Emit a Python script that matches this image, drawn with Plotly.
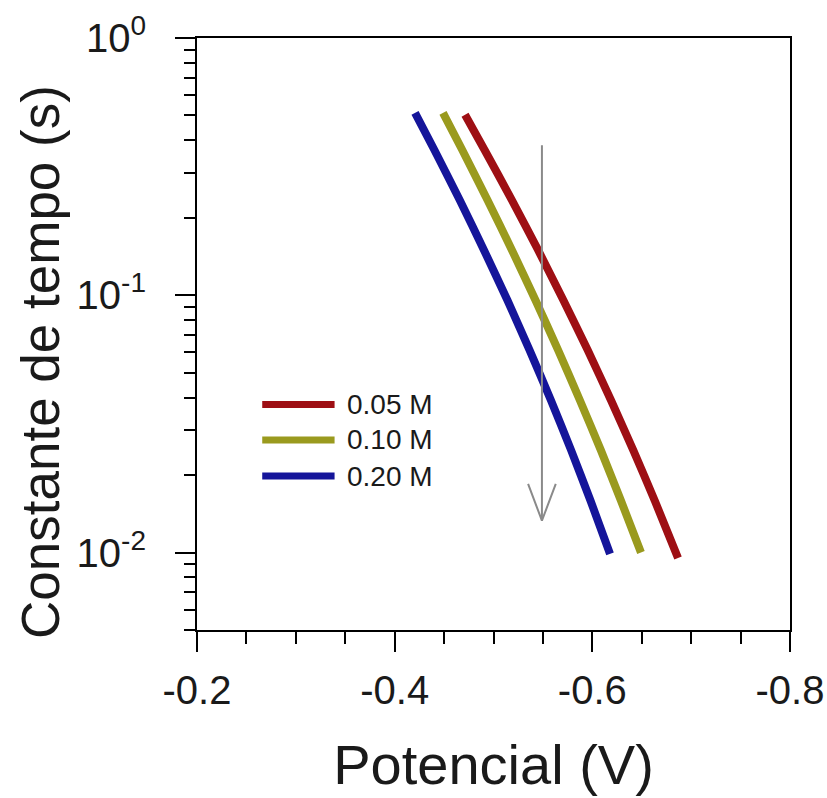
import math
import plotly.graph_objects as go

# ---- data ----
series_names = ["0.05 M", "0.10 M", "0.20 M"]
series_colors = ["#9E0F14", "#9A9A1E", "#15159A"]

pot_005 = [-0.4712, -0.4910, -0.5186, -0.5452, -0.5707, -0.5954, -0.6190, -0.6416, -0.6632, -0.6867]
tau_005 = [0.503, 0.367, 0.2345, 0.1497, 0.0956, 0.0611, 0.0390, 0.0249, 0.0159, 0.00953]

pot_010 = [-0.4489, -0.4684, -0.4939, -0.5187, -0.5425, -0.5655, -0.5875, -0.6088, -0.6290, -0.6492]
tau_010 = [0.512, 0.367, 0.2345, 0.1497, 0.0956, 0.0611, 0.0390, 0.0249, 0.0159, 0.0100]

pot_020 = [-0.4206, -0.4402, -0.4658, -0.4904, -0.5141, -0.5366, -0.5582, -0.5787, -0.5982, -0.6179]
tau_020 = [0.512, 0.367, 0.2345, 0.1497, 0.0956, 0.0611, 0.0390, 0.0249, 0.0159, 0.00989]

x_tickvals = [-0.2, -0.4, -0.6, -0.8]
x_ticktext = ["-0.2", "-0.4", "-0.6", "-0.8"]
x_minor = [-0.25, -0.3, -0.35, -0.45, -0.5, -0.55, -0.65, -0.7, -0.75]

y_tickvals = [0.01, 0.1, 1.0]
y_ticktext = ["10<sup>-2</sup>", "10<sup>-1</sup>", "10<sup>0</sup>"]
y_minor = [m * d for d in (0.001, 0.01, 0.1) for m in range(2, 10) if m * d >= 0.005]

x_range = [-0.2, -0.8]
y_range = [0.005, 1.0]

# trend arrow (concentration increase)
arrow_pot = -0.549
arrow_top = 0.383
arrow_tip = 0.0133
arrow_head_base = 0.0185
arrow_head_half = 0.014

FONT = "Liberation Sans, Arial, sans-serif"
TXT = "#1a1a1a"

fig = go.Figure()
for name, color, xs, ys in zip(series_names, series_colors,
                               [pot_005, pot_010, pot_020],
                               [tau_005, tau_010, tau_020]):
    fig.add_trace(go.Scatter(x=xs, y=ys, mode="lines", name=name,
                             line=dict(color=color, width=8, shape="spline",
                                       smoothing=0.6),
                             showlegend=False))

fig.add_trace(go.Scatter(
    x=[arrow_pot, arrow_pot, None,
       arrow_pot + arrow_head_half, arrow_pot, arrow_pot - arrow_head_half],
    y=[arrow_top, arrow_tip, None, arrow_head_base, arrow_tip, arrow_head_base],
    mode="lines", line=dict(color="#8a8a8a", width=2),
    showlegend=False, hoverinfo="skip"))

# legend drawn by hand to get long line samples
leg_y = [0.381, 0.321, 0.260]
for name, color, yy in zip(series_names, series_colors, leg_y):
    fig.add_shape(type="line", xref="paper", yref="paper",
                  x0=0.110, x1=0.232, y0=yy, y1=yy,
                  line=dict(color=color, width=7))
    fig.add_annotation(xref="paper", yref="paper", x=0.250, y=yy,
                       text=name, showarrow=False, xanchor="left",
                       yanchor="middle",
                       font=dict(family=FONT, size=28, color=TXT))

# y-axis title (placed as in the reference, slightly below the plot centre)
fig.add_annotation(xref="paper", yref="paper", x=-0.264, y=0.4535,
                   text="Constante de tempo (s)", textangle=-90,
                   showarrow=False, xanchor="center", yanchor="middle",
                   font=dict(family=FONT, size=53, color=TXT))

axis_common = dict(showline=True, linecolor="black", linewidth=2, mirror=True,
                   ticks="outside", tickcolor="black", tickwidth=2, ticklen=20,
                   showgrid=False, zeroline=False, automargin=False,
                   tickfont=dict(family=FONT, size=40, color=TXT))

fig.update_layout(
    width=827, height=798,
    margin=dict(l=197, r=37, t=38, b=168),
    paper_bgcolor="white", plot_bgcolor="white",
    xaxis=dict(range=x_range, tickmode="array", tickvals=x_tickvals,
               ticktext=x_ticktext, ticklabelstandoff=4,
               minor=dict(tickmode="array", tickvals=x_minor, ticks="outside",
                          ticklen=12, tickwidth=2, tickcolor="black"),
               title=dict(text="Potencial (V)", standoff=34,
                          font=dict(family=FONT, size=56, color=TXT)),
               **axis_common),
    yaxis=dict(type="log", range=[math.log10(y_range[0]), math.log10(y_range[1])],
               tickmode="array", tickvals=y_tickvals, ticktext=y_ticktext,
               ticklabelstandoff=21,
               minor=dict(tickmode="array", tickvals=y_minor, ticks="outside",
                          ticklen=11, tickwidth=2, tickcolor="black"),
               **axis_common),
)

# remove the default 8px page margin so the figure sits at the window origin
fig.write_html("out.html",
               config={"displayModeBar": False},
               post_script="document.body.style.margin='0';document.body.style.overflow='hidden';")
